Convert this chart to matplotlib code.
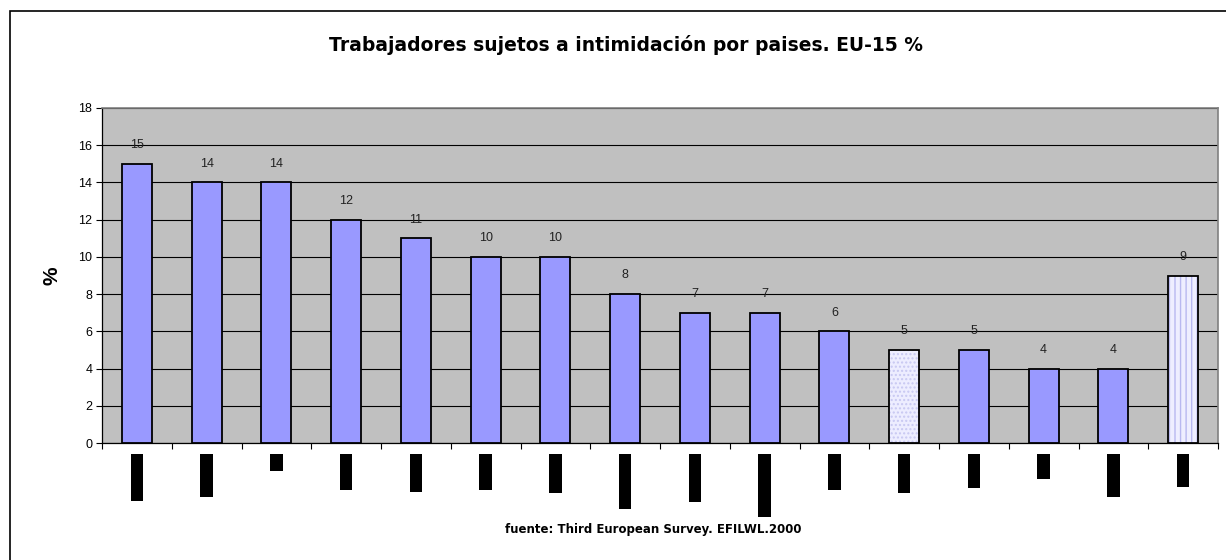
import matplotlib
matplotlib.use("Agg")
import matplotlib.pyplot as plt
from matplotlib.patches import Rectangle
import numpy as np

plt.rcParams['font.family'] = ['Liberation Sans', 'DejaVu Sans']

countries = ["Finlandia", "Holanda", "UK", "Suecia", "Bélgica", "Irlanda", "Francia",
             "Dinamarca", "Alemania", "Luxemburgo", "Austria", "España", "Grecia",
             "Italia", "Portugal", "EU-15"]
values = [15, 14, 14, 12, 11, 10, 10, 8, 7, 7, 6, 5, 5, 4, 4, 9]
yticks = [0, 2, 4, 6, 8, 10, 12, 14, 16, 18]
title = "Trabajadores sujetos a intimidación por paises. EU-15 %"
source = "fuente: Third European Survey. EFILWL.2000"

fig = plt.figure(figsize=(12.26, 5.6), dpi=100)
W, H = 1226, 560
ax = fig.add_axes([102 / W, 1 - 443 / H, (1218 - 102) / W, (443 - 108) / H])
ax.set_facecolor('#C0C0C0')

bw = 0.43
main_color = '#9999FF'
for i, v in enumerate(values):
    name = countries[i]
    if name == "España":
        ax.bar(i, v, width=bw, color='#EDEDFF', edgecolor='#C8C8F2', linewidth=0,
               hatch='....', zorder=3)
        ax.bar(i, v, width=bw, fill=False, edgecolor='black', linewidth=1.3, zorder=4)
    elif name == "EU-15":
        ax.bar(i, v, width=bw, color='#EEEEFF', edgecolor='#B8B8F0', linewidth=0,
               hatch='|||', zorder=3)
        ax.bar(i, v, width=bw, fill=False, edgecolor='black', linewidth=1.3, zorder=4)
    else:
        ax.bar(i, v, width=bw, color=main_color, edgecolor='black', linewidth=1.3, zorder=3)
    ax.annotate(str(v), (i, v), xytext=(0, 13.5), textcoords='offset points',
                ha='center', va='center', fontsize=9, color='#222222')

ax.set_xlim(-0.5, len(values) - 0.5)
ax.set_ylim(0, 18)
ax.set_yticks(yticks)
ax.set_yticklabels([str(t) for t in yticks], fontsize=9)
ax.yaxis.grid(True, color='black', linewidth=0.8, zorder=1)
ax.set_axisbelow(True)

ax.set_xticks(np.arange(len(values) + 1) - 0.5)
ax.set_xticklabels([])
ax.tick_params(axis='x', direction='out', length=4, width=0.8, color='black')
ax.tick_params(axis='y', direction='out', length=4, width=0.8, color='black', pad=3)

for s in ['top', 'right']:
    ax.spines[s].set_color('#808080')
    ax.spines[s].set_linewidth(1.2)
for s in ['left', 'bottom']:
    ax.spines[s].set_color('black')
    ax.spines[s].set_linewidth(0.9)

# Category labels (rendered as solid black blocks, as in the reference)
for i, name in enumerate(countries):
    ax.annotate(name, (i, 0), xycoords=('data', 'axes fraction'),
                xytext=(0, -8.5), textcoords='offset points',
                rotation=90, ha='center', va='top', fontsize=7.8, color='black',
                bbox=dict(boxstyle='square,pad=0.12', facecolor='black', edgecolor='none'))

ax.set_ylabel('%', fontsize=15, fontweight='bold', labelpad=12)

fig.text(626 / W, 1 - 45 / H, title, ha='center', va='center', fontsize=13.5,
         fontweight='bold', family=['DejaVu Sans'])
fig.text(653 / W, 1 - 530 / H, source, ha='center', va='center', fontsize=8.5,
         fontweight='bold', family=['DejaVu Sans'])

# outer chart border
fig.add_artist(Rectangle((10 / W, -0.05), 1.2, 1 - 11 / H + 0.05, transform=fig.transFigure,
                         fill=False, edgecolor='black', linewidth=1.2))

fig.savefig('out.png', dpi=100)
